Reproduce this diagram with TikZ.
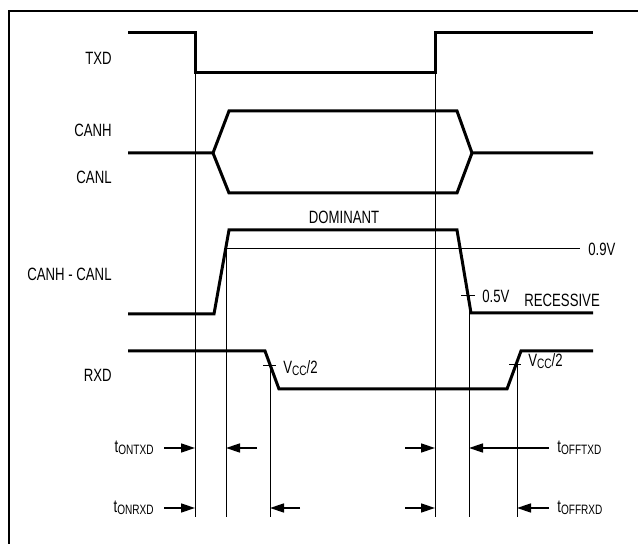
\documentclass[tikz,border=0pt]{standalone}
\usepackage{fontspec}
\setmainfont{Liberation Sans}[FakeStretch=0.74]
\usetikzlibrary{arrows.meta}
\newcommand{\lowsub}[1]{\raisebox{-1.2pt}{\fontsize{6.8}{7}\selectfont #1}}

\begin{document}
\begin{tikzpicture}[x=0.5pt, y=-0.5pt,
        signal/.style={line width=1.5pt, line join=miter},
        guide/.style={line width=0.5pt},
        timing/.style={line width=0.75pt, -{Triangle[length=7pt, width=4.5pt]}},
        signame/.style={anchor=east, inner sep=0pt},
        lvlname/.style={anchor=west, inner sep=0pt},
        every node/.style={font=\fontsize{8.9}{10}\selectfont}]
        \useasboundingbox (0,0) rectangle (638,544);

        % frame
        \draw[line width=1pt] (9,544) -- (9,11) -- (638,11);

        % signal names
        \node (txd) at (112,58) [signame] {TXD};
        \node (canh) at (112,130) [signame] {CANH};
        \node (canl) at (112,177) [signame] {CANL};
        \node (diff) at (112,274) [signame] {CANH - CANL};
        \node (rxd) at (112,375) [signame] {RXD};

        % waveforms
        \draw[signal] (128,33) -- (195,33) -- (195,73) -- (435,73) -- (435,33) -- (593,33);
        \draw[signal] (128,153) -- (213,153) -- (229,111) -- (457,111) -- (472,153) -- (593,153);
        \draw[signal] (213,153) -- (229,193) -- (457,193) -- (472,153);
        \draw[signal] (128,314) -- (214,314) -- (229,230) -- (457,230) -- (471,313) -- (593,313);
        \draw[signal] (128,351) -- (265,351) -- (279,389) -- (507,389) -- (521,351) -- (593,351);

        % levels
        \node (dom) at (344,217) {DOMINANT};
        \node (rec) at (524,300) [lvlname] {RECESSIVE};
        \draw[guide] (226,249) -- (580,249);
        \node (v09) at (588,249) [lvlname] {0.9V};
        \draw[guide] (461,296) -- (475,296);
        \node (v05) at (482,296) [lvlname] {0.5V};
        \draw[guide] (263,366) -- (276,366);
        \node (vcc1) at (283,368) [lvlname] {V\lowsub{CC}/2};
        \draw[guide] (509,365) -- (521,365);
        \node (vcc2) at (528,361) [lvlname] {V\lowsub{CC}/2};

        % edges
        \coordinate (e1) at (195,73);
        \coordinate (e2) at (226,249);
        \coordinate (e3) at (270,366);
        \coordinate (e4) at (435,73);
        \coordinate (e5) at (469,296);
        \coordinate (e6) at (517,365);
        \coordinate (bot) at (0,517);
        \foreach \e in {e1,e2,e3,e4,e5,e6}
            \draw[guide] (\e) -- (\e |- bot);

        % delays
        \coordinate (row1) at (0,448);
        \coordinate (row2) at (0,508);
        \node (lontxd) at (154,448) [signame] {t\lowsub{ONTXD}};
        \node (lonrxd) at (154,508) [signame] {t\lowsub{ONRXD}};
        \node (lofftxd) at (557,448) [lvlname] {t\lowsub{OFFTXD}};
        \node (loffrxd) at (557,508) [lvlname] {t\lowsub{OFFRXD}};
        \coordinate (a2) at (257,448);
        \coordinate (a3) at (300,508);
        \coordinate (a4) at (405,448);
        \coordinate (a5) at (405,508);
        \draw[timing] ([xshift=5pt]lontxd.east |- row1) -- (e1 |- row1);
        \draw[timing] (a2) -- (e2 |- row1);
        \draw[timing] (a4) -- (e4 |- row1);
        \draw[timing] ([xshift=-4pt]lofftxd.west |- row1) -- (e5 |- row1);
        \draw[timing] ([xshift=5pt]lonrxd.east |- row2) -- (e1 |- row2);
        \draw[timing] (a3) -- (e3 |- row2);
        \draw[timing] (a5) -- (e4 |- row2);
        \draw[timing] ([xshift=-4pt]loffrxd.west |- row2) -- (e6 |- row2);
\end{tikzpicture}
\end{document}
